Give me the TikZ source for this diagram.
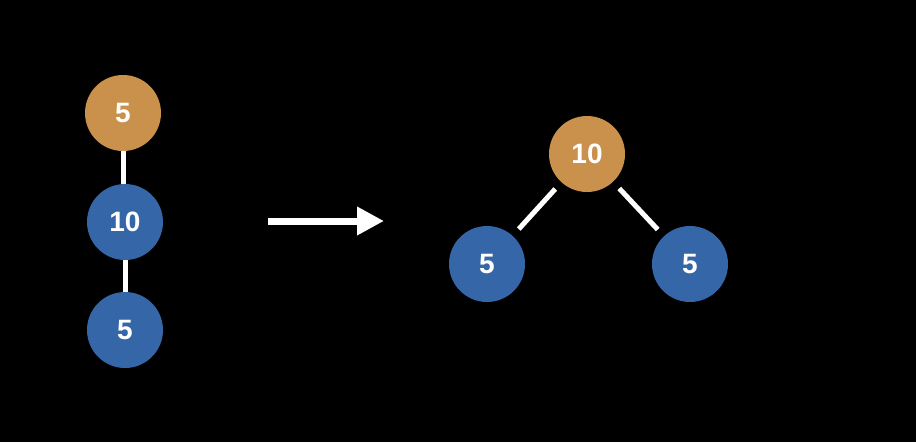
\documentclass[tikz,border=0pt]{standalone}
\usepackage{fontspec}
\setmainfont{Liberation Sans}
\usetikzlibrary{arrows.meta}
\definecolor{nodeorange}{RGB}{201,145,76}
\definecolor{nodeblue}{RGB}{53,102,168}
\tikzset{
  treenode/.style={circle, minimum size=76pt, inner sep=0pt, text=white, font=\fontsize{28}{28}\selectfont\bfseries},
  orangenode/.style={treenode, fill=nodeorange},
  bluenode/.style={treenode, fill=nodeblue},
  edge/.style={draw=white, line width=5pt},
}
\begin{document}
\begin{tikzpicture}[x=1pt,y=-1pt]
\fill[black] (0,0) rectangle (916,442);
\useasboundingbox (0,0) rectangle (916,442);
% left chain
\node[orangenode] (l1) at (123,113) {5};
\node[bluenode] (l2) at (125,222) {10};
\node[bluenode] (l3) at (125,330) {5};
\draw[edge] (l1.south) -- (l1.south |- l2.north);
\draw[edge] (l2.south) -- (l3.north);
% arrow
\coordinate (as) at (268,221);
\coordinate (ae) at (384,221);
\draw[white, line width=7pt, -{Triangle[length=27pt,width=27pt]}] (as) -- (ae);
% right tree
\node[orangenode] (r1) at (587,154) {10};
\node[bluenode] (r2) at (487,264) {5};
\node[bluenode] (r3) at (690,264) {5};
\draw[edge, shorten <=9pt, shorten >=9pt] (r1) -- (r2);
\draw[edge, shorten <=9pt, shorten >=9pt] (r1) -- (r3);
\end{tikzpicture}
\end{document}
